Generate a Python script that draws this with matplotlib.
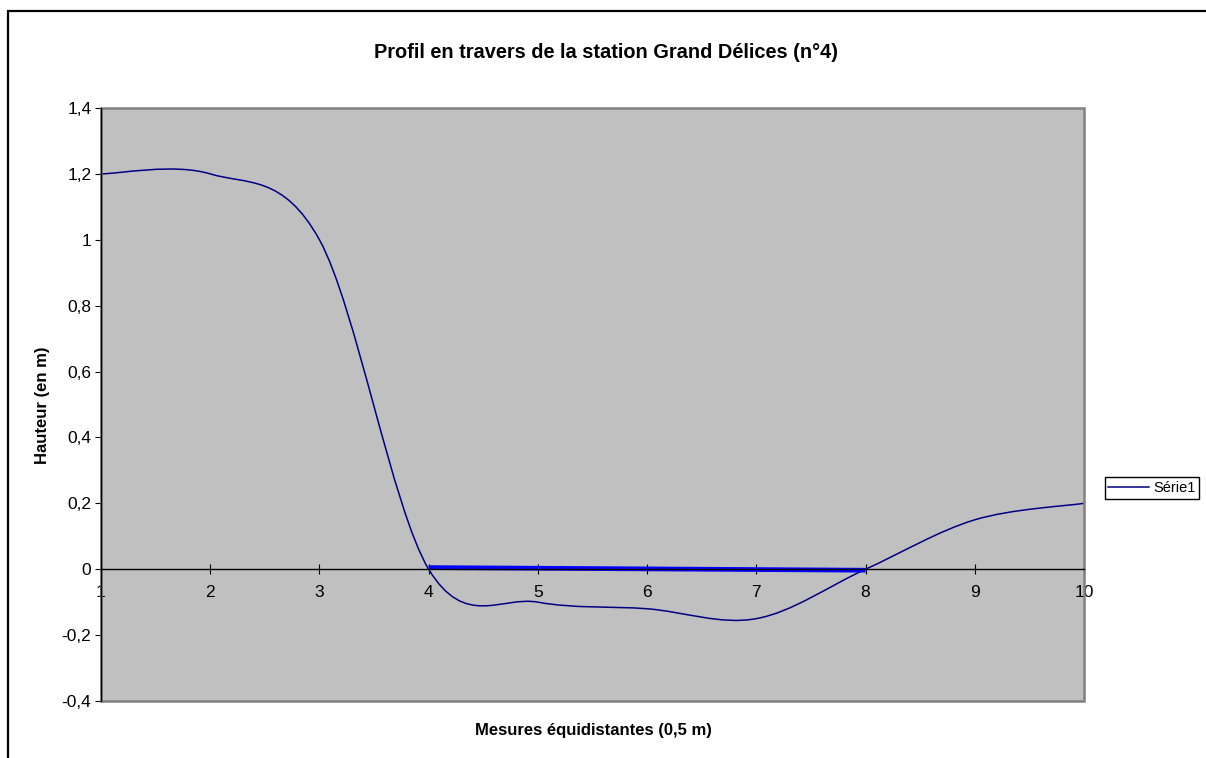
import numpy as np
import matplotlib
matplotlib.use("Agg")
import matplotlib.pyplot as plt
from matplotlib.path import Path
from matplotlib.patches import PathPatch, Rectangle
from matplotlib.lines import Line2D
from matplotlib.ticker import FuncFormatter, MultipleLocator

plt.rcParams['font.family'] = ['Liberation Sans', 'DejaVu Sans']

# donnees du profil
mesures = [1, 2, 3, 4, 5, 6, 7, 8, 9, 10]
hauteurs = [1.2, 1.2, 1.0, 0.0, -0.1, -0.12, -0.15, 0.0, 0.15, 0.2]

# niveau de l'eau (trait bleu)
eau_x = [4, 8]
eau_y = [0.005, -0.003]

title = "Profil en travers de la station Grand Délices (n°4)"
xlabel = "Mesures équidistantes (0,5 m)"
ylabel = "Hauteur (en m)"
serie_nom = "Série1"


def smooth_path(xs, ys):
    # courbe lissee facon Excel (Bezier cubique)
    pts = np.column_stack([xs, ys]).astype(float)
    n = len(pts)
    verts = [pts[0]]
    codes = [Path.MOVETO]
    for i in range(n - 1):
        p0 = pts[max(i - 1, 0)]
        p1 = pts[i]
        p2 = pts[i + 1]
        p3 = pts[min(i + 2, n - 1)]
        c1 = p1 + (p2 - p0) / 6
        c2 = p2 - (p3 - p1) / 6
        verts += [c1, c2, p2]
        codes += [Path.CURVE4] * 3
    return Path(verts, codes)


fig = plt.figure(figsize=(12.06, 7.58), dpi=100)
ax = fig.add_axes([101 / 1206, 1 - 701 / 758, 983 / 1206, 593 / 758])
ax.set_facecolor('#C0C0C0')

ax.add_patch(PathPatch(smooth_path(mesures, hauteurs), facecolor='none',
                       edgecolor='#000080', lw=1.1, zorder=3))
ax.plot(eau_x, eau_y, color='#0000FF', lw=3.4, solid_capstyle='butt', zorder=4)

ax.set_xlim(1, 10)
ax.set_ylim(-0.4, 1.4)
ax.xaxis.set_major_locator(MultipleLocator(1))
ax.yaxis.set_major_locator(MultipleLocator(0.2))
fmt = FuncFormatter(lambda v, p: f"{v:g}".replace('.', ',') if abs(v) > 1e-9 else "0")
ax.xaxis.set_major_formatter(fmt)
ax.yaxis.set_major_formatter(fmt)

# cadre gris de la zone de trace
ax.add_patch(Rectangle((0, 0), 1, 1, transform=ax.transAxes, fill=False,
                       edgecolor='#808080', lw=1.8, zorder=5, clip_on=False))
ax.spines['top'].set_visible(False)
ax.spines['right'].set_visible(False)
ax.spines['bottom'].set_position(('data', 0))
ax.spines['bottom'].set_color('black')
ax.spines['bottom'].set_linewidth(1)
ax.spines['bottom'].set_zorder(6)
ax.spines['left'].set_color('black')
ax.spines['left'].set_linewidth(1)
ax.spines['left'].set_zorder(6)

ax.tick_params(axis='x', direction='inout', length=7, width=0.8, pad=8, labelsize=12.5)
ax.tick_params(axis='y', direction='out', length=4, width=0.8, pad=3, labelsize=12.5)

fig.text(606 / 1206, 1 - 52 / 758, title, ha='center', va='center',
         fontsize=14.4, fontweight='bold')
fig.text(593 / 1206, 1 - 730 / 758, xlabel, ha='center', va='center',
         fontsize=12, fontweight='bold')
fig.text(43 / 1206, 1 - 405 / 758, ylabel, ha='center', va='center',
         fontsize=12, fontweight='bold', rotation=90)

handle = Line2D([], [], color='#000080', lw=1.1)
fig.legend([handle], [serie_nom], loc='center',
           bbox_to_anchor=(1152 / 1206, 1 - 488 / 758), bbox_transform=fig.transFigure,
           fancybox=False, edgecolor='black', framealpha=1, fontsize=10.5,
           handlelength=2.8, handletextpad=0.3, borderpad=0.25, borderaxespad=0)

# bordure de la zone du graphique
fig.patches.append(Rectangle((8 / 1206, -0.2), 1.5, 1 - 10.5 / 758 + 0.2,
                             transform=fig.transFigure, fill=False,
                             edgecolor='black', lw=1.6))

fig.savefig("out.png", dpi=100)
